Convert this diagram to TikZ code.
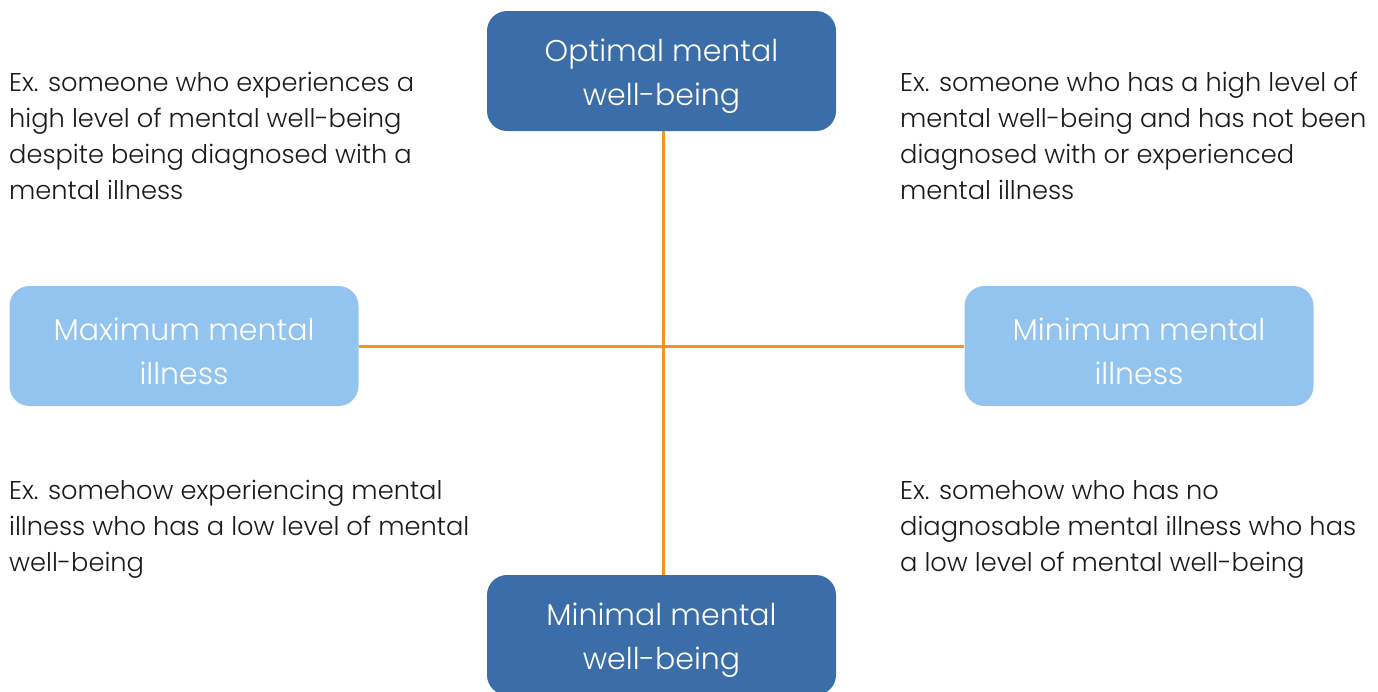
\documentclass[tikz,border=0pt]{standalone}
\usepackage{fontspec}
\setmainfont{Poppins}
\newfontfamily\lightfont{Poppins Light}
\definecolor{darkbox}{HTML}{3B6EA8}
\definecolor{lightbox}{HTML}{93C4EF}
\definecolor{axis}{HTML}{F7941D}
\definecolor{bodytext}{HTML}{1A1A1A}
\newcommand{\boxstrut}{\rule{0pt}{33pt}}
\begin{document}
\begin{tikzpicture}[x=1pt,y=-1pt,
  boxdark/.style={fill=darkbox, rounded corners=20pt, minimum width=349pt, minimum height=120pt, inner sep=0pt, text=white, align=center, font=\lightfont\fontsize{30}{44}\selectfont},
  boxlight/.style={boxdark, fill=lightbox},
  desc/.style={anchor=north west, inner sep=0pt, align=left, text=bodytext, font=\lightfont\fontsize{25.7}{36}\selectfont},
  axisline/.style={draw=axis, line width=3pt}]
\useasboundingbox (0,0) rectangle (1378,691);
\begin{scope}
\clip (0,0) rectangle (1378,691);
\node[boxdark] (top) at (661.5,71) {\boxstrut Optimal mental\\well-being};
\node[boxdark] (bottom) at (661.5,635) {\boxstrut Minimal mental\\well-being};
\node[boxlight] (left) at (184,346) {\boxstrut Maximum mental\\illness};
\node[boxlight] (right) at (1139,346) {\boxstrut Minimum mental\\illness};
\end{scope}
\coordinate (center) at (663,346);
\draw[axisline] (top.south -| center) -- (bottom.north -| center);
\draw[axisline] (left.east) -- (right.west);
\node[desc] (tl) at (9,72) {Ex. someone who experiences a\\high level of mental well-being\\despite being diagnosed with a\\mental illness};
\node[desc] (tr) at (900,72) {Ex. someone who has a high level of\\mental well-being and has not been\\diagnosed with or experienced\\mental illness};
\node[desc] (bl) at (9,480) {Ex. somehow experiencing mental\\illness who has a low level of mental\\well-being};
\node[desc] (br) at (900,480) {Ex. somehow who has no\\diagnosable mental illness who has\\a low level of mental well-being};
\end{tikzpicture}
\end{document}
